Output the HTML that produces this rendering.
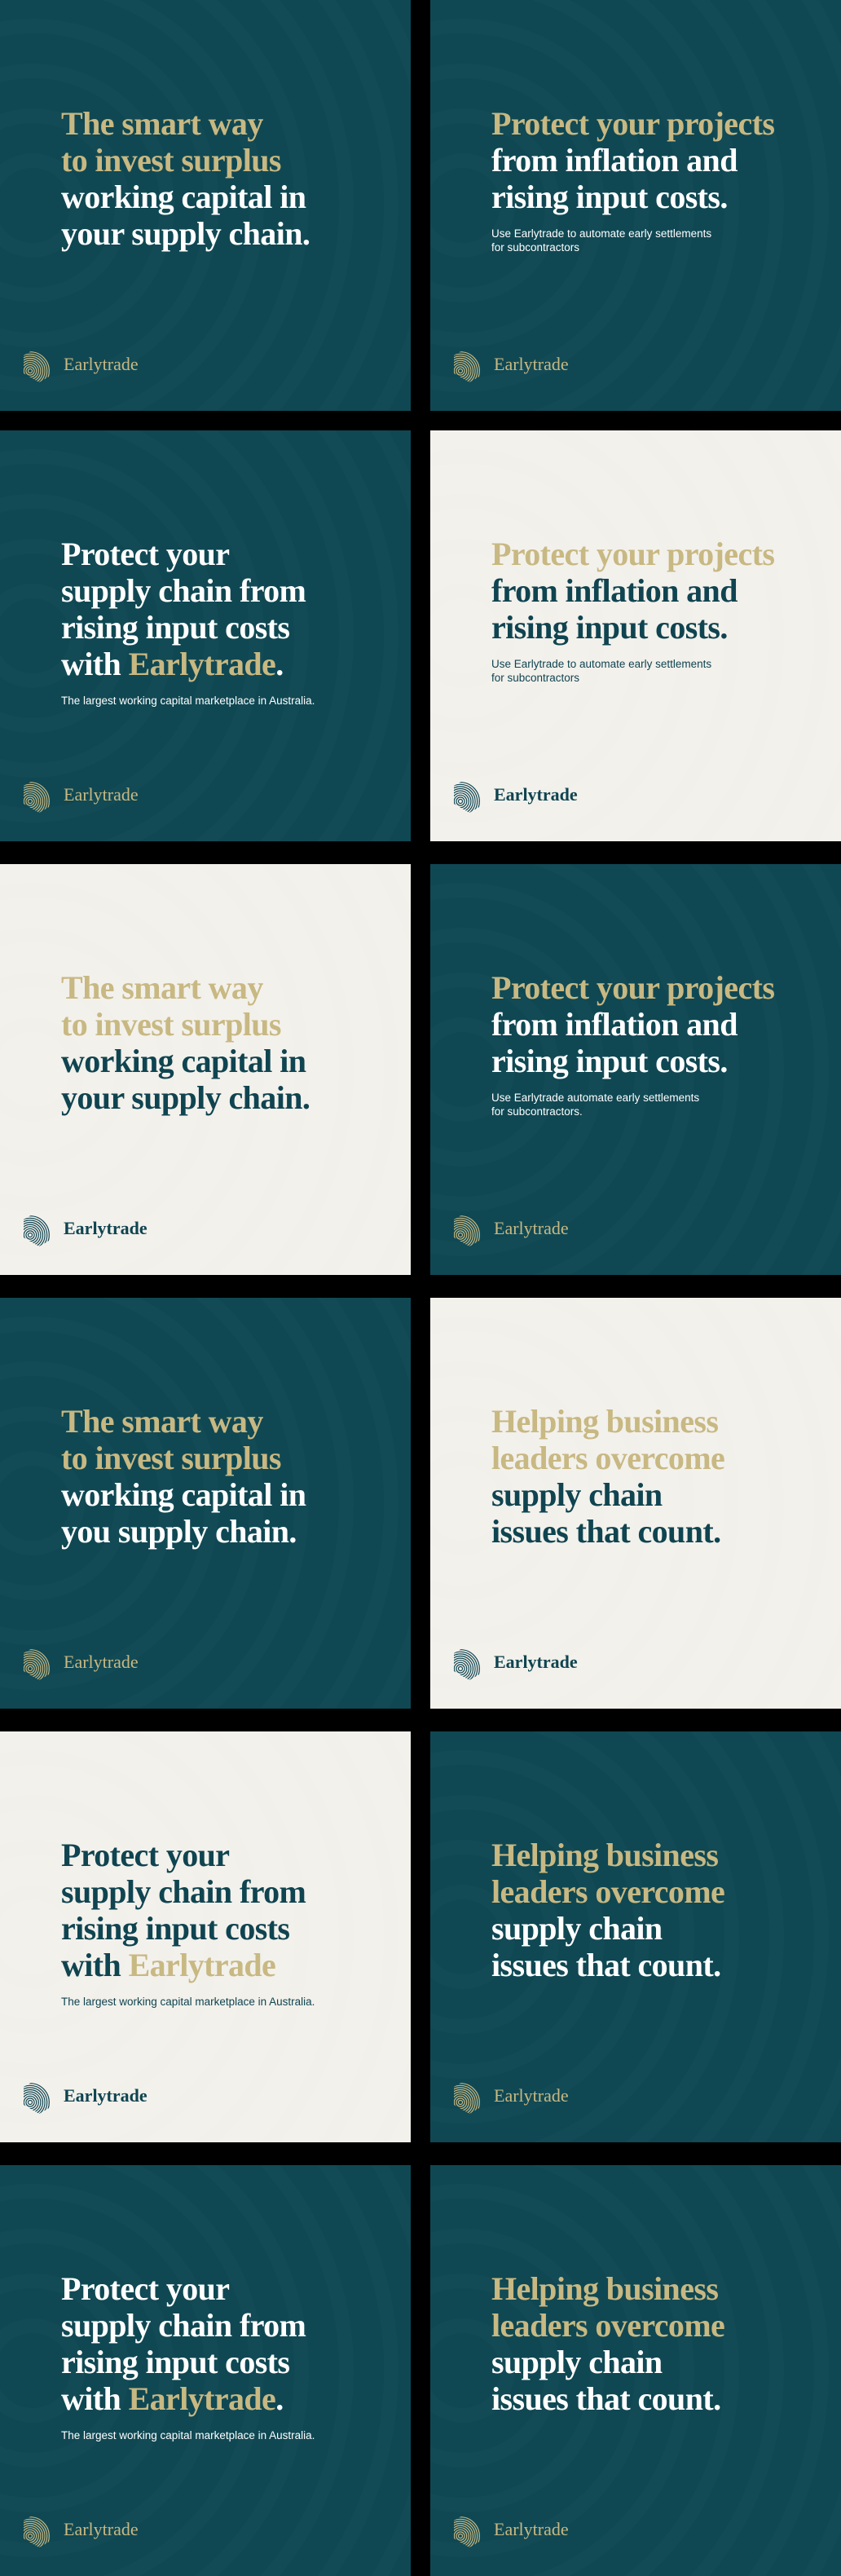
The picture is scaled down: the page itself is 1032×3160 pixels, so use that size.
<!DOCTYPE html>
<html><head><meta charset="utf-8">
<style>
html,body{margin:0;padding:0;background:#000;}
body{width:1032px;height:3160px;position:relative;overflow:hidden;}
#grid{position:absolute;left:0;top:0;width:1032px;height:3160px;overflow:hidden;}
.tile{position:absolute;width:504px;height:504px;overflow:hidden;}
.dark{background:#0f4853;}
.cream{background:#f3f1ec;}
.rings{position:absolute;left:0;top:0;}
.head{position:absolute;left:75px;top:129px;font-family:"Liberation Serif",serif;font-weight:bold;font-size:40px;line-height:45px;letter-spacing:-0.6px;white-space:nowrap;}
.sub{font-family:"Liberation Sans",sans-serif;font-weight:normal;font-size:13.5px;line-height:17px;letter-spacing:0;margin-top:14px;}
.dark .head{color:#ffffff;}
.cream .head{color:#0f4450;}
.g{color:#c8b882;}
.logo{position:absolute;left:28px;top:425px;height:44px;display:flex;align-items:center;}
.logo span{font-family:"Liberation Serif",serif;font-size:22px;margin-left:10px;}
.dark .logo span{color:#c8b882;}
.cream .logo span{color:#0f4450;font-weight:bold;}
</style></head>
<body>
<div id="grid"></div>
<script>
var tops=[0,528,1060,1592,2124,2656];
var tiles=[
 {t:'dark',h:[['g','The smart way'],['g','to invest surplus'],['','working capital in'],['','your supply chain.']],s:''},
 {t:'dark',h:[['g','Protect your projects'],['','from inflation and'],['','rising input costs.']],s:'Use Earlytrade to automate early settlements<br>for subcontractors'},
 {t:'dark',h:[['','Protect your'],['','supply chain from'],['','rising input costs'],['','with <span class="g">Earlytrade</span>.']],s:'The largest working capital marketplace in Australia.'},
 {t:'cream',h:[['g','Protect your projects'],['','from inflation and'],['','rising input costs.']],s:'Use Earlytrade to automate early settlements<br>for subcontractors'},
 {t:'cream',h:[['g','The smart way'],['g','to invest surplus'],['','working capital in'],['','your supply chain.']],s:''},
 {t:'dark',h:[['g','Protect your projects'],['','from inflation and'],['','rising input costs.']],s:'Use Earlytrade automate early settlements<br>for subcontractors.'},
 {t:'dark',h:[['g','The smart way'],['g','to invest surplus'],['','working capital in'],['','you supply chain.']],s:''},
 {t:'cream',h:[['g','Helping business'],['g','leaders overcome'],['','supply chain'],['','issues that count.']],s:''},
 {t:'cream',h:[['','Protect your'],['','supply chain from'],['','rising input costs'],['','with <span class="g">Earlytrade</span>']],s:'The largest working capital marketplace in Australia.'},
 {t:'dark',h:[['g','Helping business'],['g','leaders overcome'],['','supply chain'],['','issues that count.']],s:''},
 {t:'dark',h:[['','Protect your'],['','supply chain from'],['','rising input costs'],['','with <span class="g">Earlytrade</span>.']],s:'The largest working capital marketplace in Australia.'},
 {t:'dark',h:[['g','Helping business'],['g','leaders overcome'],['','supply chain'],['','issues that count.']],s:''}
];
function icon(col,id){
  var s='';
  for(var i=0;i<9;i++){var r=2.5+i*2.6;s+='<circle cx="9" cy="30" r="'+r+'" fill="none" stroke="'+col+'" stroke-width="1.2"/>';}
  return '<svg width="40" height="44" viewBox="0 0 40 44"><defs><clipPath id="c'+id+'"><polygon points="20,0 39,11 39,33 20,44 1,33 1,11"/></clipPath></defs><g clip-path="url(#c'+id+')">'+s+'</g></svg>';
}
function rings(col){
  var s='<svg class="rings" width="504" height="504">';
  for(var i=1;i<10;i++){s+='<circle cx="40" cy="252" r="'+(i*55)+'" fill="none" stroke="'+col+'" stroke-width="18"/>';}
  return s+'</svg>';
}
var grid=document.getElementById('grid');
tiles.forEach(function(d,i){
  var el=document.createElement('div');
  el.className='tile '+d.t;
  el.style.left=(i%2? 528:0)+'px';
  el.style.top=tops[Math.floor(i/2)]+'px';
  
  
  var h='';
  d.h.forEach(function(l){h+='<div'+(l[0]?' class="'+l[0]+'"':'')+'>'+l[1]+'</div>';});
  if(d.s) h+='<div class="sub">'+d.s+'</div>';
  var dk=d.t=='dark';
  el.innerHTML=rings(dk?'rgba(255,255,255,0.014)':'rgba(0,0,0,0.004)')+
    '<div class="head">'+h+'</div>'+
    '<div class="logo">'+icon(dk?'#c8b882':'#0f4450',i)+'<span>Earlytrade</span></div>';
  grid.appendChild(el);
  var hd=el.querySelector('.head');
  
  
  var sb=el.querySelector('.sub');
  if(sb){
  }
  var lg=el.querySelector('.logo');
  
  
});
</script>
</body></html>
